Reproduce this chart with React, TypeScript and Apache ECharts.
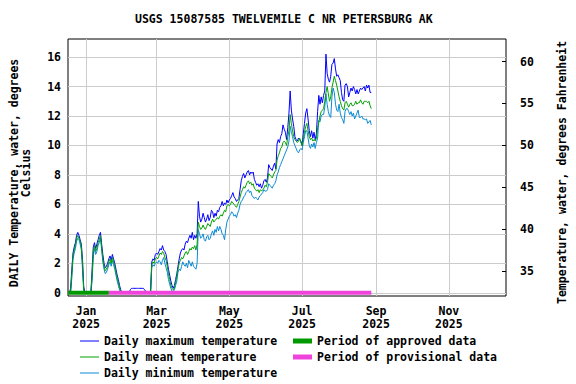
import React, { useEffect, useRef } from 'react';
import * as echarts from 'echarts';

const TITLE = 'USGS 15087585 TWELVEMILE C NR PETERSBURG AK';
const START_DATE = '2024-12-17';

// Daily maximum temperature (°C), Dec 17 2024 – Aug 28 2025
const maxDec = [0, 0, 0.3, 1.6, 2.7, 3.1, 3.4, 3.9, 4.1, 3.9, 3.6, 3.3, 2.2, 0.4, 0];
const maxJan = [0, 0, 0, 0, 0, 1.6, 3.1, 3.4, 3.0, 3.3, 3.6, 3.9, 4.1, 3.3, 2.6, 2.0, 1.7, 1.8, 2.0, 2.3, 2.5, 2.2, 2.6, 2.3, 2.0, 1.6, 1.2, 0.9, 0.5, 0.2, 0];
const maxFeb = [0, 0, 0, 0, 0, 0, 0.2, 0.3, 0.3, 0.3, 0.3, 0.3, 0.3, 0.3, 0.3, 0.3, 0.3, 0.3, 0.2, 0.1, 0, 0, 0, 0.1, 2.1, 2.3, 2.2, 2.6];
const maxMar = [2.7, 2.6, 2.8, 3.0, 2.9, 3.2, 2.9, 2.8, 2.6, 2.1, 1.6, 1.2, 0.8, 0.5, 0.3, 0.5, 0.9, 1.3, 1.8, 2.3, 2.7, 2.9, 3.0, 2.9, 3.3, 3.5, 3.4, 3.7, 3.9, 3.7, 4.1];
const maxApr = [3.6, 3.9, 3.7, 4.0, 6.2, 5.2, 4.8, 5.0, 5.4, 5.1, 4.8, 5.0, 5.3, 4.9, 5.1, 5.6, 5.5, 5.1, 5.4, 5.2, 5.6, 5.5, 5.8, 5.9, 6.2, 5.9, 6.1, 6.0, 6.3, 6.1];
const maxMay = [6.3, 6.4, 6.6, 6.8, 6.5, 6.4, 6.2, 6.3, 6.4, 7.0, 7.6, 7.9, 8.1, 7.8, 8.0, 8.2, 8.3, 8.0, 8.2, 8.1, 8.2, 7.7, 7.5, 7.3, 7.4, 7.2, 7.4, 7.1, 7.3, 7.6, 7.7];
const maxJun = [7.5, 7.8, 8.7, 8.5, 8.4, 8.3, 8.6, 8.8, 8.4, 10.1, 10.4, 10.2, 10.6, 10.8, 11.4, 11.1, 10.9, 10.4, 11.2, 12.2, 13.7, 12.4, 11.8, 11.3, 10.6, 10.4, 10.3, 10.5, 10.4, 10.3];
const maxJul = [10.0, 10.8, 11.5, 12.2, 12.5, 11.8, 11.0, 10.6, 11.0, 10.5, 10.9, 10.4, 10.8, 12.3, 13.4, 12.8, 13.3, 12.9, 13.4, 13.7, 16.2, 14.9, 14.5, 14.3, 14.7, 15.5, 15.6, 15.9, 15.2, 14.7, 14.8];
const maxAug = [14.6, 14.4, 13.6, 13.1, 13.0, 14.1, 14.2, 14.0, 13.3, 13.6, 13.9, 13.7, 14.0, 13.8, 13.5, 13.8, 13.5, 13.7, 13.9, 13.8, 13.9, 14.0, 13.7, 14.1, 13.9, 14.1, 13.6, 13.6];

// Daily mean temperature (°C)
const meanDec = [0, 0, 0.1, 1.3, 2.5, 2.9, 3.2, 3.7, 3.9, 3.7, 3.5, 3.1, 1.9, 0.2, 0];
const meanJan = [0, 0, 0, 0, 0, 1.2, 2.8, 3.2, 2.8, 3.0, 3.4, 3.6, 3.9, 3.1, 2.3, 1.8, 1.5, 1.6, 1.8, 2.1, 2.3, 2.0, 2.4, 2.1, 1.8, 1.4, 1.0, 0.7, 0.3, 0.1, 0];
const meanFeb = [0, 0, 0, 0, 0, 0, 0, 0, 0, 0, 0, 0, 0, 0, 0, 0, 0, 0, 0, 0, 0, 0, 0, 0, 1.9, 2.1, 2.0, 2.3];
const meanMar = [2.4, 2.3, 2.5, 2.7, 2.6, 2.8, 2.7, 2.4, 2.2, 1.8, 1.3, 0.9, 0.5, 0.3, 0.2, 0.3, 0.7, 1.1, 1.6, 2.0, 2.2, 2.4, 2.3, 2.5, 2.7, 2.8, 2.6, 2.8, 3.0, 2.9, 3.1];
const meanApr = [3.0, 3.2, 2.9, 3.3, 4.8, 4.5, 4.3, 4.4, 4.6, 4.4, 4.3, 4.5, 4.7, 4.6, 4.5, 4.8, 5.0, 4.8, 4.9, 5.0, 5.1, 5.0, 5.2, 5.3, 5.2, 5.4, 5.6, 5.5, 5.9, 6.0];
const meanMay = [5.9, 6.0, 6.2, 6.1, 6.0, 5.9, 5.8, 6.0, 6.2, 6.5, 6.8, 7.0, 7.2, 7.1, 7.3, 7.5, 7.6, 7.4, 7.5, 7.3, 7.4, 7.1, 7.0, 6.9, 7.0, 6.8, 7.0, 6.9, 7.0, 7.1, 7.3];
const meanJun = [7.2, 7.5, 8.1, 8.0, 7.9, 7.8, 8.0, 8.2, 8.3, 9.0, 9.3, 9.5, 9.8, 9.9, 10.2, 10.3, 10.2, 10.0, 10.6, 11.0, 12.1, 11.5, 11.0, 10.6, 10.4, 10.3, 10.2, 10.3, 10.5, 10.2];
const meanJul = [10.0, 10.4, 10.9, 11.3, 11.5, 11.0, 10.6, 10.4, 10.5, 10.3, 10.4, 10.3, 10.5, 11.2, 11.6, 12.0, 12.3, 12.4, 12.5, 13.0, 13.6, 14.0, 13.5, 13.0, 13.3, 13.9, 14.3, 14.7, 14.4, 14.1, 13.7];
const meanAug = [13.3, 13.0, 12.7, 12.5, 12.4, 12.9, 13.0, 12.8, 12.6, 12.8, 12.9, 12.7, 12.7, 12.8, 13.0, 12.8, 12.9, 12.9, 13.1, 12.9, 12.8, 13.0, 13.0, 13.0, 12.9, 13.0, 12.7, 12.5];

// Daily minimum temperature (°C)
const minDec = [0, 0, 0, 1.0, 2.3, 2.7, 3.0, 3.5, 3.7, 3.6, 3.3, 2.9, 1.5, 0.1, 0];
const minJan = [0, 0, 0, 0, 0, 0.8, 2.5, 3.0, 2.6, 2.8, 3.2, 3.4, 3.7, 2.9, 2.1, 1.6, 1.3, 1.4, 1.6, 1.9, 2.1, 1.8, 2.2, 1.9, 1.6, 1.2, 0.8, 0.5, 0.2, 0, 0];
const minFeb = [0, 0, 0, 0, 0, 0, 0, 0, 0, 0, 0, 0, 0, 0, 0, 0, 0, 0, 0, 0, 0, 0, 0, 0, 1.7, 1.9, 1.8, 2.0];
const minMar = [2.1, 2.0, 2.2, 2.1, 1.9, 2.2, 2.4, 2.0, 1.7, 1.4, 0.9, 0.6, 0.3, 0.1, 0.1, 0.2, 0.5, 0.8, 1.4, 1.6, 1.5, 1.8, 2.1, 1.9, 1.8, 2.0, 1.7, 2.2, 2.0, 1.8, 2.1];
const minApr = [1.8, 1.7, 1.6, 2.0, 4.3, 4.0, 3.7, 3.8, 4.0, 3.6, 3.5, 3.8, 3.9, 3.6, 3.7, 4.0, 4.2, 3.9, 4.3, 4.1, 4.5, 4.2, 4.5, 4.3, 4.0, 3.9, 3.6, 4.3, 4.8, 5.0];
const minMay = [5.2, 5.3, 5.5, 5.4, 5.2, 5.3, 5.1, 5.4, 5.6, 6.0, 6.2, 6.3, 6.5, 6.6, 6.8, 6.9, 7.0, 6.8, 6.9, 6.6, 6.5, 6.4, 6.5, 6.4, 6.3, 6.5, 6.6, 6.7, 6.8, 7.0, 6.9];
const minJun = [6.9, 7.0, 7.4, 7.3, 7.2, 7.1, 7.3, 7.4, 7.6, 8.0, 8.2, 8.5, 8.7, 8.9, 9.1, 9.3, 9.5, 9.7, 9.9, 10.3, 11.3, 10.9, 10.6, 10.2, 10.0, 9.8, 9.6, 9.5, 9.7, 9.8];
const minJul = [9.7, 10.2, 10.6, 11.0, 11.0, 10.5, 10.0, 9.8, 10.1, 9.9, 10.2, 9.8, 10.2, 10.5, 11.7, 11.6, 12.0, 12.1, 12.1, 12.6, 13.5, 12.8, 12.3, 12.0, 11.9, 13.3, 13.9, 13.6, 12.8, 12.4, 12.3];
const minAug = [12.8, 12.2, 11.9, 11.75, 11.5, 12.3, 12.5, 12.5, 12.3, 12.1, 12.3, 12.0, 12.2, 11.8, 12.0, 12.2, 12.4, 11.9, 11.9, 12.0, 11.8, 11.8, 11.75, 11.8, 11.5, 11.6, 11.7, 11.4];

const approvedPeriod = ['2024-12-17', '2025-01-20'];
const provisionalPeriod = ['2025-01-20', '2025-08-28'];

const celsiusTicks = [0, 2, 4, 6, 8, 10, 12, 14, 16];
const fahrenheitTicks = [35, 40, 45, 50, 55, 60];
const monthTicks = ['2025-01-01', '2025-03-01', '2025-05-01', '2025-07-01', '2025-09-01', '2025-11-01'];
const MONTH_NAMES = ['Jan', 'Feb', 'Mar', 'Apr', 'May', 'Jun', 'Jul', 'Aug', 'Sep', 'Oct', 'Nov', 'Dec'];

const SERIES_NAMES = {
  max: 'Daily maximum temperature',
  mean: 'Daily mean temperature',
  min: 'Daily minimum temperature',
  approved: 'Period of approved data',
  provisional: 'Period of provisional data',
};

const DAY = 86400000;
const toTs = (s: string) => {
  const [y, m, d] = s.split('-').map(Number);
  return Date.UTC(y, m - 1, d);
};

const dailyMax = [...maxDec, ...maxJan, ...maxFeb, ...maxMar, ...maxApr, ...maxMay, ...maxJun, ...maxJul, ...maxAug];
const dailyMean = [...meanDec, ...meanJan, ...meanFeb, ...meanMar, ...meanApr, ...meanMay, ...meanJun, ...meanJul, ...meanAug];
const dailyMin = [...minDec, ...minJan, ...minFeb, ...minMar, ...minApr, ...minMay, ...minJun, ...minJul, ...minAug];

const start = toTs(START_DATE);
const pairs = (arr: number[]) => arr.map((v, i) => [start + i * DAY, v]);

const FONT = '"DejaVu Sans Mono", monospace';
const textBase = { fontFamily: FONT, fontSize: 11.5, fontWeight: 'bold' as const, color: '#000' };

const COLORS = {
  max: '#0000ff',
  mean: '#00a000',
  min: '#0a8ad4',
  approved: '#009900',
  provisional: '#f043dc',
};

export default function App() {
  const ref = useRef<HTMLDivElement>(null);
  useEffect(() => {
    document.body.style.margin = '0';
    const chart = echarts.init(ref.current!, undefined, { renderer: 'svg' });
    const jan1 = toTs('2025-01-01');
    const monthTs = monthTicks.map(toTs);
    chart.setOption({
      animation: false,
      backgroundColor: '#fff',
      title: {
        text: TITLE,
        left: 135,
        top: 13,
        padding: 0,
        textStyle: { ...textBase },
      },
      grid: {
        left: 64,
        right: 70,
        top: 39,
        bottom: 88,
        show: true,
        borderColor: '#000',
        borderWidth: 1,
        containLabel: false,
      },
      legend: [
        {
          orient: 'vertical',
          left: 80,
          top: 334,
          padding: 0,
          itemGap: 2,
          itemWidth: 19,
          itemHeight: 1,
          icon: 'rect',
          textStyle: { ...textBase, lineHeight: 14 },
          data: [SERIES_NAMES.max, SERIES_NAMES.mean, SERIES_NAMES.min],
        },
        {
          orient: 'vertical',
          left: 293,
          top: 334,
          padding: 0,
          itemGap: 2,
          itemWidth: 19,
          itemHeight: 5,
          icon: 'rect',
          textStyle: { ...textBase, lineHeight: 14 },
          data: [SERIES_NAMES.approved, SERIES_NAMES.provisional],
        },
      ],
      xAxis: {
        type: 'value',
        min: jan1 - 15.2 * DAY,
        max: jan1 + 351.9 * DAY,
        axisLine: { show: false },
        axisTick: { show: false, customValues: monthTs },
        axisLabel: {
          customValues: monthTs,
          ...textBase,
          lineHeight: 13,
          margin: 8,
          formatter: (v: number) => {
            const d = new Date(v);
            return MONTH_NAMES[d.getUTCMonth()] + '\n' + d.getUTCFullYear();
          },
        },
        splitLine: { show: true, lineStyle: { color: '#cccccc', width: 1 } },
      },
      yAxis: [
        {
          type: 'value',
          position: 'left',
          min: -0.22,
          max: 17.23,
          axisLine: { show: false },
          axisTick: { show: false, customValues: celsiusTicks },
          axisLabel: { customValues: celsiusTicks, margin: 7, ...textBase },
          splitLine: { show: true, lineStyle: { color: '#cccccc', width: 1 } },
          name: 'DAILY Temperature, water, degrees\nCelsius',
          nameLocation: 'middle',
          nameGap: 36,
          nameTextStyle: { ...textBase, lineHeight: 12, padding: [0, 11, 0, 0] },
        },
        {
          type: 'value',
          position: 'right',
          min: 32.0,
          max: 62.7,
          axisLine: { show: false },
          axisTick: { show: true, inside: true, length: 4, customValues: fahrenheitTicks, lineStyle: { color: '#000', width: 1 } },
          axisLabel: { customValues: fahrenheitTicks, margin: 14, ...textBase },
          splitLine: { show: false },
          name: 'Temperature, water, degrees Fahrenheit',
          nameLocation: 'middle',
          nameGap: 50,
          nameTextStyle: { ...textBase, lineHeight: 12, padding: [0, 10, 0, 0] },
        },
      ],
      series: [
        {
          name: SERIES_NAMES.max,
          type: 'line',
          symbol: 'none',
          color: COLORS.max,
          itemStyle: { color: COLORS.max },
          lineStyle: { width: 1, color: COLORS.max },
          data: pairs(dailyMax),
          z: 3,
        },
        {
          name: SERIES_NAMES.mean,
          type: 'line',
          symbol: 'none',
          color: COLORS.mean,
          itemStyle: { color: COLORS.mean },
          lineStyle: { width: 1, color: COLORS.mean },
          data: pairs(dailyMean),
          z: 4,
        },
        {
          name: SERIES_NAMES.min,
          type: 'line',
          symbol: 'none',
          color: COLORS.min,
          itemStyle: { color: COLORS.min },
          lineStyle: { width: 1, color: COLORS.min },
          data: pairs(dailyMin),
          z: 2,
        },
        {
          name: SERIES_NAMES.approved,
          type: 'line',
          symbol: 'none',
          color: COLORS.approved,
          itemStyle: { color: COLORS.approved },
          lineStyle: { width: 4, color: COLORS.approved, cap: 'butt' },
          data: approvedPeriod.map((d) => [toTs(d), 0]),
          z: 6,
        },
        {
          name: SERIES_NAMES.provisional,
          type: 'line',
          symbol: 'none',
          color: COLORS.provisional,
          itemStyle: { color: COLORS.provisional },
          lineStyle: { width: 4, color: COLORS.provisional, cap: 'butt' },
          data: provisionalPeriod.map((d) => [toTs(d), 0]),
          z: 5,
        },
      ],
    });
    return () => chart.dispose();
  }, []);
  return <div ref={ref} style={{ width: 576, height: 384 }} />;
}
